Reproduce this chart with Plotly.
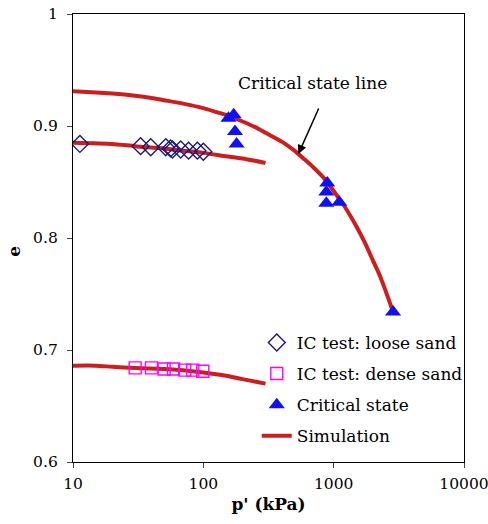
import plotly.graph_objects as go

# IC tests, loose sand
loose_p = [11.3, 33, 39.5, 51.5, 56, 58, 67, 77, 90, 100]
loose_e = [0.884, 0.882, 0.881, 0.881, 0.880, 0.879, 0.879, 0.878, 0.878, 0.877]
# IC tests, dense sand
dense_p = [30, 40, 50, 59, 72, 83, 99]
dense_e = [0.684, 0.684, 0.683, 0.683, 0.682, 0.682, 0.681]
# Critical state points
cs_p = [156, 171, 175, 180, 893, 878, 878, 1104, 2857]
cs_e = [0.907, 0.910, 0.895, 0.884, 0.849, 0.841, 0.831, 0.832, 0.734]
# Simulation: critical state line
csl_p = [10, 15, 20, 30, 40, 50, 70, 100, 130, 150, 200, 250, 300, 400, 500, 600, 700, 850,
         1000, 1200, 1500, 1750, 2000, 2250, 2500, 2857]
csl_e = [0.931, 0.930, 0.929, 0.927, 0.925, 0.923, 0.920, 0.916, 0.912, 0.910, 0.904, 0.899,
         0.894, 0.886, 0.878, 0.870, 0.863, 0.853, 0.842, 0.829, 0.810, 0.795, 0.780, 0.767,
         0.753, 0.734]
# Simulation: loose sand
simL_p = [10, 20, 30, 50, 70, 100, 150, 200, 300]
simL_e = [0.885, 0.884, 0.882, 0.880, 0.878, 0.876, 0.873, 0.871, 0.867]
# Simulation: dense sand
simD_p = [10, 15, 20, 30, 50, 70, 100, 150, 200, 300]
simD_e = [0.686, 0.686, 0.685, 0.684, 0.683, 0.682, 0.680, 0.677, 0.674, 0.670]

RED = "#CC1E1E"
FONT = "DejaVu Serif"

fig = go.Figure()
line_style = dict(color=RED, width=4, shape="spline", smoothing=0.6)
fig.add_trace(go.Scatter(x=csl_p, y=csl_e, mode="lines", line=line_style, showlegend=False, hoverinfo="skip"))
fig.add_trace(go.Scatter(x=simL_p, y=simL_e, mode="lines", line=line_style, showlegend=False, hoverinfo="skip"))
fig.add_trace(go.Scatter(x=simD_p, y=simD_e, mode="lines", line=line_style, showlegend=False, hoverinfo="skip"))

fig.add_trace(go.Scatter(x=loose_p, y=loose_e, mode="markers", name="IC test: loose sand", legendgroup="a",
                         marker=dict(symbol="diamond-open", size=13, color="#1C1A7A", line=dict(width=1.4))))
fig.add_trace(go.Scatter(x=dense_p, y=dense_e, mode="markers", name="IC test: dense sand", legendgroup="b",
                         marker=dict(symbol="square-open", size=12, color="#FF00FF", line=dict(width=1.4))))
fig.add_trace(go.Scatter(x=cs_p, y=cs_e, mode="markers", name="Critical state", legendgroup="c",
                         marker=dict(symbol="triangle-up", size=14, color="#1010F0")))
fig.add_trace(go.Scatter(x=[None], y=[None], mode="lines", name="Simulation", legendgroup="d",
                         line=dict(color=RED, width=4)))

fig.update_layout(
    width=488, height=524,
    margin=dict(l=73, r=24, t=14, b=62, autoexpand=False),
    paper_bgcolor="white", plot_bgcolor="white",
    font=dict(family=FONT, size=17, color="black"),
    showlegend=True,
    legend=dict(x=0.47, y=0.306, xanchor="left", yanchor="top", bgcolor="rgba(0,0,0,0)",
                font=dict(family=FONT, size=17), itemwidth=30, tracegroupgap=6, itemsizing="trace"),
    xaxis=dict(type="log", range=[1, 4], tickvals=[10, 100, 1000, 10000], automargin=False,
               ticktext=["10", "100", "1000", "10000"], ticks="outside", ticklen=5,
               ticklabeloverflow="allow", ticklabelstandoff=2,
               showline=True, linecolor="black", linewidth=1.3, mirror=True, showgrid=False,
               zeroline=False, tickfont=dict(family=FONT, size=15.5),
               title=dict(text="<b>p' (kPa)</b>", font=dict(family=FONT, size=17), standoff=6)),
    yaxis=dict(range=[0.6, 1.0], tickvals=[0.6, 0.7, 0.8, 0.9, 1.0], automargin=False,
               ticktext=["0.6", "0.7", "0.8", "0.9", "1"], ticks="outside", ticklen=5,
               ticklabeloverflow="allow", ticklabelstandoff=6,
               showline=True, linecolor="black", linewidth=1.3, mirror=True, showgrid=False,
               zeroline=False, tickfont=dict(family=FONT, size=15.5)),
    annotations=[
        dict(text="<b>e</b>", xref="paper", yref="paper", x=-0.15, y=0.47, showarrow=False,
             textangle=-90, font=dict(family=FONT, size=17), xanchor="center", yanchor="middle"),
        dict(text="Critical state line", xref="x", yref="y", x=2.84, y=0.938,
             showarrow=False, font=dict(family=FONT, size=17)),
    ],
)
fig.add_annotation(x=2.729, y=0.875, xref="x", yref="y", text="", showarrow=True,
                   arrowhead=2, arrowsize=1.2, arrowwidth=1.5, arrowcolor="black",
                   ax=21, ay=-47)

fig.write_html("out.html")
